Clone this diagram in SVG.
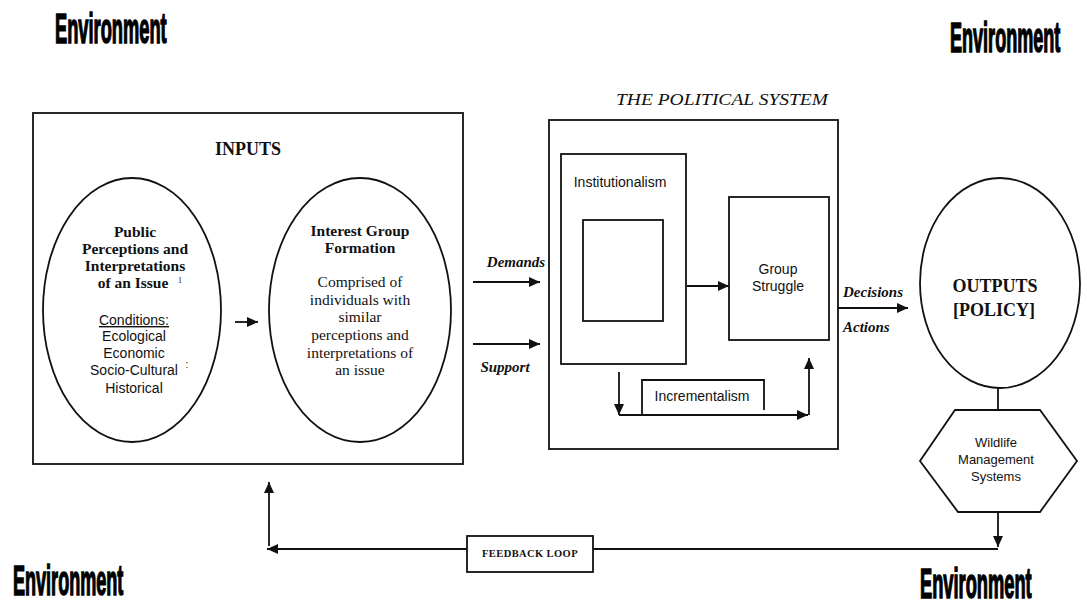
<svg xmlns="http://www.w3.org/2000/svg" width="1087" height="605" viewBox="0 0 1087 605">
  <style>
    .ln { fill: none; stroke: #111; stroke-width: 1.8; }
    .box { fill: #fff; stroke: #111; stroke-width: 1.8; }
    .env { font-family: "Liberation Sans", Arial, sans-serif; font-weight: bold; font-size: 42px; fill: #000; stroke: #000; stroke-width: 1.6; }
    .sb { font-family: "Liberation Serif", "Times New Roman", serif; font-weight: bold; fill: #111; text-anchor: middle; }
    .sr { font-family: "Liberation Serif", "Times New Roman", serif; fill: #111; text-anchor: middle; }
    .si { font-family: "Liberation Serif", "Times New Roman", serif; font-style: italic; font-weight: bold; fill: #111; font-size: 15px; }
    .ss { font-family: "Liberation Sans", Arial, sans-serif; fill: #111; text-anchor: middle; }
  </style>
  <defs>
    <marker id="head" markerUnits="userSpaceOnUse" markerWidth="12" markerHeight="10" refX="11" refY="5" orient="auto">
      <path d="M0,0 L11,5 L0,10 z" fill="#111"/>
    </marker>
  </defs>
  <rect width="1087" height="605" fill="#fff"/>

  <!-- environment labels in the four corners, condensed horizontally -->
  <g id="env-labels">
    <text class="env" transform="translate(55,43) scale(0.435,1)">Environment</text>
    <text class="env" transform="translate(950,52) scale(0.43,1)">Environment</text>
    <text class="env" transform="translate(13,595) scale(0.43,1)">Environment</text>
    <text class="env" transform="translate(920,598) scale(0.435,1)">Environment</text>
  </g>

  <!-- inputs block -->
  <g id="inputs">
    <rect class="box" x="33" y="113" width="430" height="351"/>
    <text class="sb" x="248" y="155" font-size="18">INPUTS</text>
  </g>

  <g id="public-perceptions">
    <ellipse class="ln" cx="132" cy="310" rx="89" ry="132"/>
    <text class="sb" font-size="15.5" x="135" y="237">Public</text>
    <text class="sb" font-size="15.5" x="135" y="254">Perceptions and</text>
    <text class="sb" font-size="15.5" x="135" y="271">Interpretations</text>
    <text class="sb" font-size="15.5" x="133" y="288">of an Issue</text>
    <text class="sr" font-size="8" x="180" y="283">1</text>
    <text class="ss" font-size="14" x="134" y="325" text-decoration="underline">Conditions:</text>
    <text class="ss" font-size="14" x="134" y="341">Ecological</text>
    <text class="ss" font-size="14" x="134" y="358">Economic</text>
    <text class="ss" font-size="14" x="134" y="375">Socio-Cultural</text>
    <text class="ss" font-size="10" x="187" y="368">:</text>
    <text class="ss" font-size="14" x="134" y="393">Historical</text>
  </g>

  <g id="interest-group">
    <ellipse class="ln" cx="360" cy="310" rx="91" ry="132"/>
    <text class="sb" font-size="15.5" x="360" y="236">Interest Group</text>
    <text class="sb" font-size="15.5" x="360" y="253">Formation</text>
    <text class="sr" font-size="15.5" x="360" y="287">Comprised of</text>
    <text class="sr" font-size="15.5" x="360" y="305">individuals with</text>
    <text class="sr" font-size="15.5" x="360" y="322">similar</text>
    <text class="sr" font-size="15.5" x="360" y="340">perceptions and</text>
    <text class="sr" font-size="15.5" x="360" y="358">interpretations of</text>
    <text class="sr" font-size="15.5" x="360" y="375">an issue</text>
  </g>

  <!-- political system block -->
  <g id="political-system">
    <text x="616" y="105" font-family="Liberation Serif, 'Times New Roman', serif" font-style="italic" font-size="17" textLength="212" lengthAdjust="spacingAndGlyphs" fill="#111">THE POLITICAL SYSTEM</text>
    <rect class="box" x="549" y="120" width="289" height="329"/>
  </g>

  <g id="institutionalism">
    <rect class="box" x="561" y="154" width="125" height="210"/>
    <text class="ss" font-size="14" x="620" y="187">Institutionalism</text>
    <rect class="box" x="583" y="220" width="80" height="101"/>
  </g>

  <g id="group-struggle">
    <rect class="box" x="729" y="197" width="100" height="143"/>
    <text class="ss" font-size="14" x="778" y="274">Group</text>
    <text class="ss" font-size="14" x="778" y="291">Struggle</text>
  </g>

  <g id="incrementalism">
    <path class="ln" d="M642,415 V380 H764 V410"/>
    <text class="ss" font-size="14" x="702" y="401">Incrementalism</text>
  </g>

  <!-- outputs -->
  <g id="outputs">
    <ellipse class="ln" cx="1000" cy="283" rx="80" ry="105"/>
    <text class="sb" font-size="18" x="995" y="292">OUTPUTS</text>
    <text class="sb" font-size="18" x="994" y="316">[POLICY]</text>
  </g>

  <g id="wildlife">
    <polygon class="box" points="955,410 1040,410 1077,461 1040,512 958,512 920,461"/>
    <text class="ss" font-size="13" x="996" y="447">Wildlife</text>
    <text class="ss" font-size="13" x="996" y="464">Management</text>
    <text class="ss" font-size="13" x="996" y="481">Systems</text>
  </g>

  <g id="feedback">
    <rect class="box" x="467" y="536" width="126" height="36"/>
    <text class="sb" font-size="10.5" x="530" y="557" letter-spacing="0.4">FEEDBACK LOOP</text>
  </g>

  <!-- connectors -->
  <g id="connectors">
    <line class="ln" x1="235" y1="322" x2="258" y2="322" marker-end="url(#head)"/>
    <line class="ln" x1="473" y1="282" x2="540" y2="282" marker-end="url(#head)"/>
    <line class="ln" x1="473" y1="344" x2="540" y2="344" marker-end="url(#head)"/>
    <line class="ln" x1="687" y1="286" x2="729" y2="286" marker-end="url(#head)"/>
    <line class="ln" x1="619" y1="372" x2="619" y2="415" marker-end="url(#head)"/>
    <line class="ln" x1="619" y1="415" x2="808" y2="415" marker-end="url(#head)"/>
    <line class="ln" x1="809" y1="415" x2="809" y2="358" marker-end="url(#head)"/>
    <line class="ln" x1="838" y1="308" x2="908" y2="308" marker-end="url(#head)"/>
    <line class="ln" x1="998" y1="388" x2="998" y2="410"/>
    <line class="ln" x1="998" y1="512" x2="998" y2="547" marker-end="url(#head)"/>
    <line class="ln" x1="998" y1="549" x2="593" y2="549"/>
    <line class="ln" x1="467" y1="549" x2="267" y2="549" marker-end="url(#head)"/>
    <line class="ln" x1="269" y1="546" x2="269" y2="482" marker-end="url(#head)"/>
    <text class="si" x="516" y="267" text-anchor="middle" font-size="16">Demands</text>
    <text class="si" x="505" y="372" text-anchor="middle">Support</text>
    <text class="si" x="843" y="297">Decisions</text>
    <text class="si" x="843" y="332">Actions</text>
  </g>
</svg>
